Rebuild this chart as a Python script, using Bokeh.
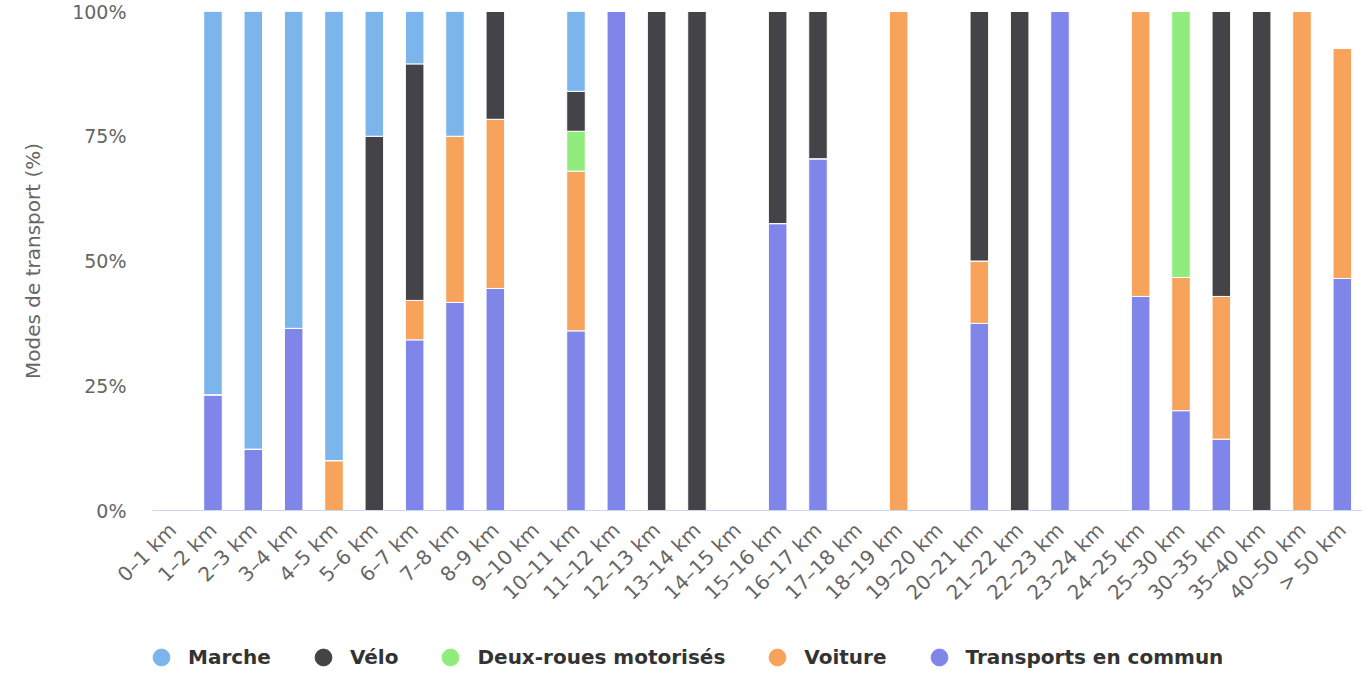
import math
from bokeh.plotting import figure
from bokeh.layouts import column
from bokeh.models import (Range1d, FactorRange, FixedTicker, PrintfTickFormatter,
                          Legend, LegendItem, ColumnDataSource)
from bokeh.embed import file_html
from bokeh.resources import INLINE

categories = ["0–1 km", "1–2 km", "2–3 km", "3–4 km", "4–5 km", "5–6 km", "6–7 km",
              "7–8 km", "8–9 km", "9–10 km", "10–11 km", "11–12 km", "12–13 km",
              "13–14 km", "14–15 km", "15–16 km", "16–17 km", "17–18 km", "18–19 km",
              "19–20 km", "20–21 km", "21–22 km", "22–23 km", "23–24 km", "24–25 km",
              "25–30 km", "30–35 km", "35–40 km", "40–50 km", "> 50 km"]

marche = [0, 76.8, 87.7, 63.5, 90, 25, 10.5, 25, 0, 0, 16, 0, 0, 0, 0,
          0, 0, 0, 0, 0, 0, 0, 0, 0, 0, 0, 0, 0, 0, 0]
velo = [0, 0, 0, 0, 0, 75, 47.4, 0, 21.6, 0, 8, 0, 100, 100, 0,
        42.5, 29.5, 0, 0, 0, 50, 100, 0, 0, 0, 0, 57.1, 100, 0, 0]
deux_roues = [0, 0, 0, 0, 0, 0, 0, 0, 0, 0, 8, 0, 0, 0, 0,
              0, 0, 0, 0, 0, 0, 0, 0, 0, 0, 53.3, 0, 0, 0, 0]
voiture = [0, 0, 0, 0, 10, 0, 7.9, 33.3, 33.9, 0, 32, 0, 0, 0, 0,
           0, 0, 0, 100, 0, 12.5, 0, 0, 0, 57.1, 26.7, 28.6, 0, 100, 46.1]
transports = [0, 23.2, 12.3, 36.5, 0, 0, 34.2, 41.7, 44.5, 0, 36, 100, 0, 0, 0,
              57.5, 70.5, 0, 0, 0, 37.5, 0, 100, 0, 42.9, 20, 14.3, 0, 0, 46.5]

series_names = ["Marche", "Vélo", "Deux-roues motorisés", "Voiture", "Transports en commun"]
series_keys = ["marche", "velo", "deux_roues", "voiture", "transports"]
colors = ["#7cb5ec", "#434348", "#90ed7d", "#f7a35c", "#8085e9"]
y_ticks = [0, 25, 50, 75, 100]

FONT = "DejaVu Sans"
W = 1362

source = ColumnDataSource(data=dict(cat=categories, marche=marche, velo=velo,
                                    deux_roues=deux_roues, voiture=voiture,
                                    transports=transports))

p = figure(x_range=FactorRange(*categories, range_padding=0), y_range=Range1d(0, 100),
           width=W, height=615, output_backend="svg", toolbar_location=None,
           min_border_left=152, min_border_right=0, min_border_top=11, min_border_bottom=104)

stack_order = series_keys[::-1]
stack_colors = colors[::-1]
p.vbar_stack(stack_order, x="cat", width=0.46, source=source,
             color=stack_colors, line_color="white", line_width=1)

p.xgrid.visible = False
p.ygrid.visible = False
p.outline_line_color = None

p.yaxis.ticker = FixedTicker(ticks=y_ticks)
p.yaxis.formatter = PrintfTickFormatter(format="%d%%")
p.yaxis.axis_line_color = None
p.yaxis.major_tick_line_color = None
p.yaxis.minor_tick_line_color = None
p.yaxis.major_label_text_font = FONT
p.yaxis.major_label_text_font_size = "19px"
p.yaxis.major_label_text_color = "#666666"
p.yaxis.major_label_standoff = 20
p.yaxis.axis_label = "Modes de transport (%)"
p.yaxis.axis_label_text_font = FONT
p.yaxis.axis_label_text_font_size = "20px"
p.yaxis.axis_label_text_font_style = "normal"
p.yaxis.axis_label_text_color = "#666666"
p.yaxis.axis_label_standoff = 24

p.xaxis.axis_line_color = "#ccd6eb"
p.xaxis.axis_line_width = 1
p.xaxis.major_tick_line_color = None
p.xaxis.minor_tick_line_color = None
p.xaxis.major_label_orientation = math.pi / 4
p.xaxis.major_label_text_font = FONT
p.xaxis.major_label_text_font_size = "20px"
p.xaxis.major_label_text_color = "#666666"
p.xaxis.major_label_standoff = 10

# legend in its own strip below the chart
lg = figure(width=W, height=54, output_backend="svg", toolbar_location=None,
            x_axis_location=None, y_axis_location=None, min_border=0)
lg.xgrid.visible = False
lg.ygrid.visible = False
lg.outline_line_color = None

nan = float("nan")
items = []
for name, col in zip(series_names, colors):
    r = lg.scatter(x=[nan], y=[nan], marker="circle", size=17,
                   fill_color=col, line_color=col)
    items.append(LegendItem(label=name, renderers=[r]))

legend = Legend(items=items, orientation="horizontal", location=(-12, -9),
                label_text_font=FONT, label_text_font_size="20px",
                label_text_font_style="bold", label_text_color="#333333",
                glyph_width=42, glyph_height=42, label_standoff=6, spacing=31,
                padding=0, margin=0, border_line_color=None,
                background_fill_alpha=0)
lg.add_layout(legend, "center")

layout = column(p, lg, spacing=0)
open("out.html", "w").write(file_html(layout, INLINE))
